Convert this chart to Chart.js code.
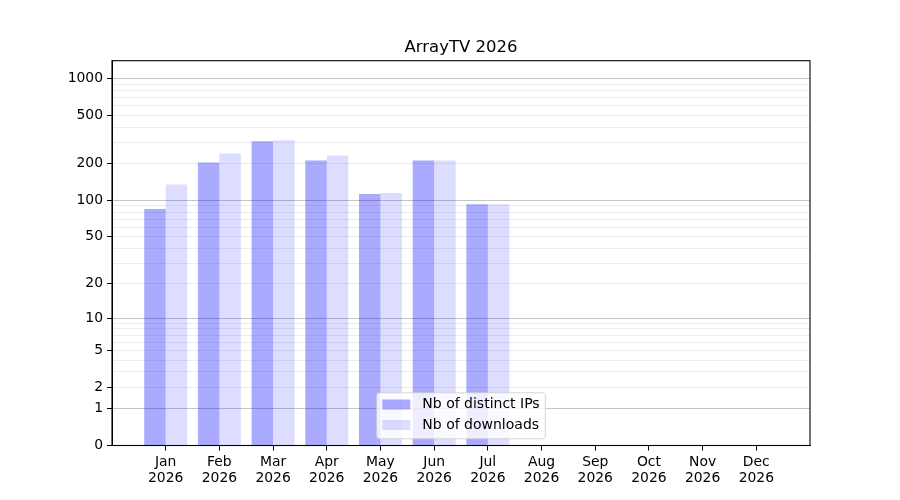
<!DOCTYPE html>
<html>
<head>
<meta charset="utf-8">
<script src="https://cdn.jsdelivr.net/npm/chart.js@4/dist/chart.umd.min.js"></script>
<style>
  html, body { margin: 0; padding: 0; background: #ffffff; }
  #wrap { width: 900px; height: 500px; }
</style>
</head>
<body>
<div id="wrap"><canvas id="c" width="900" height="500"></canvas></div>
<script>
// ---- data ----
const TITLE = 'ArrayTV 2026';
const YEAR = '2026';
const MONTHS = ['Jan', 'Feb', 'Mar', 'Apr', 'May', 'Jun', 'Jul', 'Aug', 'Sep', 'Oct', 'Nov', 'Dec'];
const DISTINCT_IPS = [85, 205, 306, 213, 113, 213, 93, null, null, null, null, null];
const DOWNLOADS = [135, 243, 312, 234, 115, 213, 93, null, null, null, null, null];
const SERIES_LABELS = ['Nb of distinct IPs', 'Nb of downloads'];
const Y_LABELED_TICKS = [0, 1, 2, 5, 10, 20, 50, 100, 200, 500, 1000];
const Y_DECADE_TICKS = [1, 10, 100, 1000];
const Y_MINOR_TICKS = [3, 4, 6, 7, 8, 9, 30, 40, 60, 70, 80, 90, 300, 400, 600, 700, 800, 900];
const Y_MAX = 1400;

// ---- custom scales ----
class Log1pScale extends Chart.LinearScale {
  buildTicks() {
    const all = Y_LABELED_TICKS.concat(Y_MINOR_TICKS).sort((a, b) => a - b);
    return all.map(v => ({ value: v }));
  }
  getPixelForValue(value) {
    const t = Math.log10(1 + Math.max(0, value)) / Math.log10(1 + this.max);
    return this.getPixelForDecimal(t);
  }
  getValueForPixel(pixel) {
    return Math.pow(10, this.getDecimalForPixel(pixel) * Math.log10(1 + this.max)) - 1;
  }
}
Log1pScale.id = 'log1p';
Log1pScale.defaults = Chart.LinearScale.defaults;

class WideCategoryScale extends Chart.CategoryScale {
  configure() {
    super.configure();
    this._startValue = this.min - 1;
    this._valueRange = (this.max - this.min) + 2;
  }
}
WideCategoryScale.id = 'widecat';
WideCategoryScale.defaults = Chart.CategoryScale.defaults;

Chart.register(Log1pScale, WideCategoryScale);

const FONT = 'DejaVu Sans';

// centre the title over the plot area (as matplotlib does)
const titleCenterPlugin = {
  id: 'titleCenter',
  afterLayout(chart) {
    const tb = chart.titleBlock;
    if (tb) {
      tb.left = chart.chartArea.left;
      tb.right = chart.chartArea.right;
    }
  }
};

const framePlugin = {
  id: 'frame',
  afterDatasetsDraw(chart) {
    const a = chart.chartArea, ctx = chart.ctx;
    ctx.save();
    ctx.strokeStyle = '#000000';
    ctx.lineWidth = 1.1;
    ctx.strokeRect(a.left, a.top, a.right - a.left, a.bottom - a.top);
    ctx.restore();
  }
};

const legendPlugin = {
  id: 'innerLegend',
  afterDraw(chart) {
    const a = chart.chartArea, ctx = chart.ctx;
    const ds = chart.data.datasets;
    ctx.save();
    ctx.font = '14px "' + FONT + '"';
    let tw = 0;
    ds.forEach(d => { tw = Math.max(tw, ctx.measureText(d.label).width); });
    const padL = 5.7, sw = 28, gap = 12, padR = 5.7;
    const w = padL + sw + gap + tw + padR;
    const h = 46;
    const x = (a.left + a.right) / 2 - w / 2;
    const y = a.bottom - 6.7 - h;
    const r = 3;
    ctx.beginPath();
    ctx.moveTo(x + r, y);
    ctx.lineTo(x + w - r, y);
    ctx.quadraticCurveTo(x + w, y, x + w, y + r);
    ctx.lineTo(x + w, y + h - r);
    ctx.quadraticCurveTo(x + w, y + h, x + w - r, y + h);
    ctx.lineTo(x + r, y + h);
    ctx.quadraticCurveTo(x, y + h, x, y + h - r);
    ctx.lineTo(x, y + r);
    ctx.quadraticCurveTo(x, y, x + r, y);
    ctx.closePath();
    ctx.fillStyle = 'rgba(255,255,255,0.8)';
    ctx.fill();
    ctx.strokeStyle = 'rgba(204,204,204,0.8)';
    ctx.lineWidth = 1;
    ctx.stroke();
    ds.forEach((d, i) => {
      const cy = y + 11.7 + i * 20.5;
      ctx.fillStyle = d.backgroundColor;
      ctx.fillRect(x + padL, cy - 5, sw, 10);
      ctx.fillStyle = '#000000';
      ctx.textBaseline = 'middle';
      ctx.textAlign = 'left';
      ctx.fillText(d.label, x + padL + sw + gap, cy);
    });
    ctx.restore();
  }
};

new Chart(document.getElementById('c'), {
  type: 'bar',
  data: {
    labels: MONTHS.map(m => [m, YEAR]),
    datasets: [
      { label: SERIES_LABELS[0], data: DISTINCT_IPS, backgroundColor: 'rgba(0,0,255,0.333)', borderWidth: 0 },
      { label: SERIES_LABELS[1], data: DOWNLOADS, backgroundColor: 'rgba(0,0,255,0.133)', borderWidth: 0 }
    ]
  },
  options: {
    responsive: false,
    animation: false,
    devicePixelRatio: 1,
    categoryPercentage: 0.8,
    barPercentage: 1.0,
    layout: { padding: { top: 37.5, left: 0, right: 90, bottom: 0 } },
    plugins: {
      legend: { display: false },
      tooltip: { enabled: false },
      title: {
        display: true,
        text: TITLE,
        color: '#000000',
        font: { family: FONT, size: 16.5, weight: 'normal', lineHeight: 1.2 },
        padding: { top: 0, bottom: 3.4 }
      }
    },
    scales: {
      x: {
        type: 'widecat',
        offset: false,
        grid: { offset: false, drawOnChartArea: false, tickLength: 5, tickColor: '#000000', tickWidth: 1 },
        border: { display: true, color: '#000000', width: 1 },
        ticks: {
          color: '#000000',
          font: { family: FONT, size: 13.9, lineHeight: 1.12 },
          padding: 4.5,
          maxRotation: 0,
          autoSkip: false
        },
        afterFit(scale) { scale.height = 54.5; }
      },
      y: {
        type: 'log1p',
        min: 0,
        max: Y_MAX,
        grid: {
          drawOnChartArea: true,
          tickLength: 5,
          lineWidth: 1,
          color(ctx) {
            const v = ctx.tick ? ctx.tick.value : null;
            if (v === 0) return 'rgba(0,0,0,0)';
            if (Y_DECADE_TICKS.includes(v)) return 'rgba(150,150,150,0.55)';
            return 'rgba(0,0,0,0.075)';
          },
          tickColor(ctx) {
            const v = ctx.tick ? ctx.tick.value : null;
            return Y_LABELED_TICKS.includes(v) ? '#000000' : 'rgba(0,0,0,0)';
          }
        },
        border: { display: true, color: '#000000', width: 1 },
        ticks: {
          color: '#000000',
          font: { family: FONT, size: 13.9 },
          padding: 4,
          autoSkip: false,
          callback(value) { return Y_LABELED_TICKS.includes(value) ? String(value) : ''; }
        },
        afterFit(scale) { scale.width = 112; }
      }
    }
  },
  plugins: [titleCenterPlugin, framePlugin, legendPlugin]
});
</script>
</body>
</html>
